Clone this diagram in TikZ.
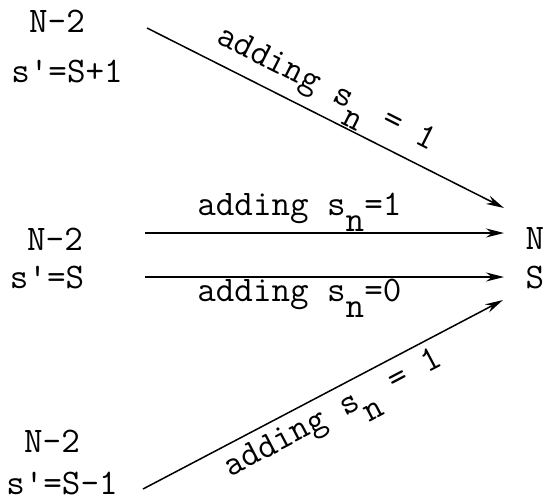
\documentclass[tikz,border=0pt]{standalone}
\usepackage{fontspec}
\usetikzlibrary{arrows.meta,positioning,calc}
\newcommand{\lowsub}[1]{\raisebox{-0.45em}{#1}}

\begin{document}
\begin{tikzpicture}[x=1pt, y=-1pt,
      state/.style={font=\fontsize{36}{42}\selectfont\ttfamily, inner sep=0pt, anchor=base},
      tag/.style={font=\fontsize{36}{42}\selectfont\ttfamily, inner sep=1pt},
      arr/.style={-{Stealth[length=18pt,width=9pt]}, line width=1.5pt}
    ]
    \useasboundingbox (0,0) rectangle (546,501);
    % left states
    \node[state] (nup) at (57,32) {N-2};
    \node[state] (sup) at (67,82) {s'=S+1};
    \node[state] (nmid) at (55,250) {N-2};
    \node[state] (smid) at (47,288) {s'=S};
    \node[state] (nlow) at (52,452) {N-2};
    \node[state] (slow) at (62,494) {s'=S-1};
    % right state
    \node[state] (nend) at (535,249) {N};
    \node[state] (send) at (535,288) {S};
    % arrow ends
    \coordinate (a0) at (147,28);  \coordinate (a1) at (504,208);
    \coordinate (b0) at (145,233); \coordinate (b1) at (504,233);
    \coordinate (c0) at (145,277); \coordinate (c1) at (504,277);
    \coordinate (d0) at (143,489); \coordinate (d1) at (503,300);
    \draw[arr] (a0) -- (a1) node[tag, pos=0.47, sloped, above] {adding s\lowsub{n} = 1};
    \draw[arr] (b0) -- (b1) node[tag, pos=0.43, above] {adding s\lowsub{n}=1};
    \draw[arr] (c0) -- (c1) node[tag, pos=0.43, below] {adding s\lowsub{n}=0};
    \draw[arr] (d0) -- (d1) node[tag, pos=0.5, sloped, below, yshift=-6pt] {adding s\lowsub{n} = 1};
  \end{tikzpicture}
\end{document}
